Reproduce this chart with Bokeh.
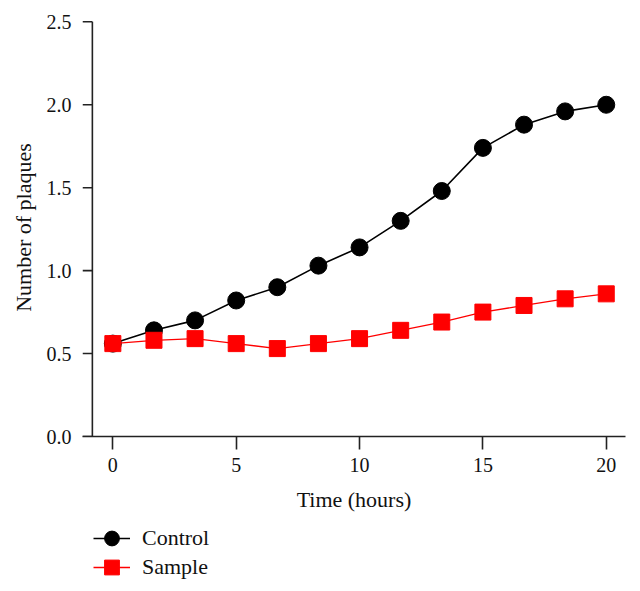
from bokeh.plotting import figure
from bokeh.layouts import column
from bokeh.models import Range1d, FixedTicker, Legend, LegendItem, NumeralTickFormatter
from bokeh.embed import file_html
from bokeh.resources import INLINE

time_hours = [0, 1.667, 3.333, 5, 6.667, 8.333, 10, 11.667, 13.333, 15, 16.667, 18.333, 20]
control = [0.56, 0.64, 0.70, 0.82, 0.90, 1.03, 1.14, 1.30, 1.48, 1.74, 1.88, 1.96, 2.00]
sample = [0.56, 0.58, 0.59, 0.56, 0.53, 0.56, 0.59, 0.64, 0.69, 0.75, 0.79, 0.83, 0.86]
x_ticks = [0, 5, 10, 15, 20]
y_ticks = [0.0, 0.5, 1.0, 1.5, 2.0, 2.5]
series_names = ["Control", "Sample"]

FONT = "Liberation Serif"
AXIS_COLOR = "#222222"
X_START, X_END = -1.23, 20.78
Y_AXIS_AT = -0.83   # the y axis line sits a little right of the x axis start

p = figure(output_backend="svg", toolbar_location=None,
           x_range=Range1d(X_START, X_END), y_range=Range1d(0, 2.52),
           frame_width=543, frame_height=418,
           min_border_left=82, min_border_right=6, min_border_top=18, min_border_bottom=0)
p.outline_line_color = None
p.grid.visible = False
p.background_fill_color = "white"
p.border_fill_color = "white"

# x axis
xa = p.xaxis[0]
xa.ticker = FixedTicker(ticks=x_ticks)
xa.axis_line_color = AXIS_COLOR
xa.axis_line_width = 1.6
xa.major_tick_line_color = AXIS_COLOR
xa.major_tick_line_width = 1.6
xa.major_tick_in = 0
xa.major_tick_out = 13
xa.minor_tick_line_color = None
xa.major_label_text_font = FONT
xa.major_label_text_font_size = "20px"
xa.major_label_text_color = "#111111"
xa.major_label_standoff = 8
xa.axis_label = "Time (hours)"
xa.axis_label_text_font = FONT
xa.axis_label_text_font_size = "22px"
xa.axis_label_text_font_style = "normal"
xa.axis_label_text_color = "#111111"
xa.axis_label_standoff = 12

# y axis (labels from Bokeh, line and ticks drawn at the offset position)
ya = p.yaxis[0]
ya.ticker = FixedTicker(ticks=y_ticks)
ya.formatter = NumeralTickFormatter(format="0.0")
ya.axis_line_color = None
ya.major_tick_line_color = None
ya.major_tick_in = 0
ya.major_tick_out = 0
ya.minor_tick_line_color = None
ya.major_label_text_font = FONT
ya.major_label_text_font_size = "20px"
ya.major_label_text_color = "#111111"
ya.major_label_standoff = 11
ya.axis_label = "Number of plaques"
ya.axis_label_text_font = FONT
ya.axis_label_text_font_size = "22px"
ya.axis_label_text_font_style = "normal"
ya.axis_label_text_color = "#111111"
ya.axis_label_standoff = 8

p.segment(x0=[Y_AXIS_AT], y0=[y_ticks[0]], x1=[Y_AXIS_AT], y1=[y_ticks[-1]],
          line_color=AXIS_COLOR, line_width=1.6)
p.segment(x0=[X_START] * len(y_ticks), y0=y_ticks, x1=[Y_AXIS_AT] * len(y_ticks), y1=y_ticks,
          line_color=AXIS_COLOR, line_width=1.6)

# series
styles = [dict(color="black", marker="circle", size=17, lw=1.6),
          dict(color="#ff0000", marker="square", size=16, lw=1.3)]
for vals, st in zip([control, sample], styles):
    p.line(time_hours, vals, line_color=st["color"], line_width=st["lw"])
    p.scatter(time_hours, vals, marker=st["marker"], size=st["size"],
              fill_color=st["color"], line_color=st["color"])

# legend strip below the chart (its own view window lies away from the data,
# so only the legend entries show)
leg = figure(width=631, height=78, output_backend="svg", toolbar_location=None,
             x_range=Range1d(1000, 1001), y_range=Range1d(1000, 1001),
             x_axis_location=None, y_axis_location=None,
             min_border_left=0, min_border_right=0, min_border_top=0, min_border_bottom=0)
leg.outline_line_color = None
leg.grid.visible = False

legend_locs = [(11, 35), (11, 6)]
for name, vals, st, loc in zip(series_names, [control, sample], styles, legend_locs):
    lr = leg.line(time_hours, vals, line_color=st["color"], line_width=st["lw"])
    sr = leg.scatter(time_hours, vals, marker=st["marker"], fill_color=st["color"], line_color=st["color"])
    leg.add_layout(Legend(items=[LegendItem(label=name, renderers=[lr, sr])],
                          location=loc, orientation="vertical",
                          glyph_width=37, glyph_height=38, spacing=0,
                          label_standoff=12, padding=0, margin=0,
                          label_text_font=FONT, label_text_font_size="22px",
                          label_text_color="#111111",
                          border_line_color=None, background_fill_alpha=0))

layout = column(p, leg, spacing=0)
open("out.html", "w").write(file_html(layout, INLINE))
